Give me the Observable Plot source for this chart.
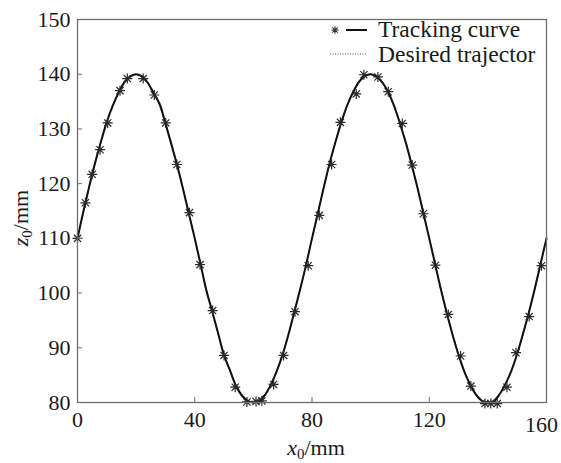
<!DOCTYPE html>
<html><head><meta charset="utf-8">
<script src="https://cdn.jsdelivr.net/npm/d3@7"></script>
<script src="https://cdn.jsdelivr.net/npm/@observablehq/plot@0.6"></script>
<style>body{margin:0;background:#fff} svg{display:block}</style>
</head><body><div id="chart"></div>
<script>
// x positions (mm) of the sampled curves
const xGrid = [0,2,4,6,8,10,12,14,16,18,20,22,24,26,28,30,32,34,36,38,40,42,44,46,48,50,52,54,56,58,60,62,64,66,68,70,72,74,76,78,80,82,84,86,88,90,92,94,96,98,100,102,104,106,108,110,112,114,116,118,120,122,124,126,128,130,132,134,136,138,140,142,144,146,148,150,152,154,156,158,160];
// tracking curve z0 (mm)
const trackZ = [110,114.9,119.5,123.8,127.7,131.3,134.2,136.6,138.5,139.6,140.0,
  139.6,138.4,136.5,134.6,131.0,127.2,123.3,119.0,114.5,110.0,
  105.2,100.4,96.6,92.6,88.6,85.9,83.1,81.3,80.3,80.0,
  80.3,81.4,83.3,85.8,88.8,92.5,96.6,100.8,105.2,110.0,
  114.6,119.3,123.7,127.6,131.2,134.3,136.7,138.6,139.7,140.0,
  139.6,138.5,136.7,134.2,131.0,127.5,123.5,119.2,114.6,110.0,
  105.3,100.6,96.3,92.3,88.7,85.6,83.2,81.4,80.3,80.0,
  80.2,81.5,83.4,85.8,88.9,92.6,96.5,100.8,105.4,110.0];
// desired trajectory z0 (mm)
const desiredZ = [110,114.7,119.3,123.6,127.6,131.2,134.3,136.7,138.5,139.6,140.0,
  139.6,138.5,136.7,134.3,131.2,127.6,123.6,119.3,114.7,110.0,
  105.3,100.7,96.4,92.4,88.8,85.7,83.3,81.5,80.4,80.0,
  80.4,81.5,83.3,85.7,88.8,92.4,96.4,100.7,105.3,110.0,
  114.7,119.3,123.6,127.6,131.2,134.3,136.7,138.5,139.6,140.0,
  139.6,138.5,136.7,134.3,131.2,127.6,123.6,119.3,114.7,110.0,
  105.3,100.7,96.4,92.4,88.8,85.7,83.3,81.5,80.4,80.0,
  80.4,81.5,83.3,85.7,88.8,92.4,96.4,100.7,105.3,110.0];
// star markers on the tracking curve
const starX = [0,2.7,5.0,7.7,10.3,14.5,17,22.4,26.2,30.1,33.9,38.2,41.8,46.1,50.0,53.8,57.8,60.9,62.9,66.9,70.3,74.2,78.7,82.5,86.7,89.7,95.1,97.7,102.5,106.0,110.8,114.2,118.0,122.1,126.5,130.7,134.2,139.0,141.0,143.2,146.5,149.6,154.1,158.3];
const starZ = [110,116.5,121.7,126.2,131.1,137.0,139.2,139.2,136.2,131.1,123.5,114.7,105.2,96.8,88.6,82.8,80.1,80.2,80.3,83.3,88.6,96.6,105.0,114.2,123.5,131.2,136.4,139.9,139.5,136.8,131.0,123.4,114.5,105.1,96.1,88.5,83.0,79.8,79.8,79.8,82.8,89.1,95.7,105.0];
const xTicks = [0,40,80,120];
const xLastTick = [160];
const yTicks = [80,90,100,110,120,130,140,150];
const seriesNames = ["Tracking curve","Desired trajector"];

const track = xGrid.map((x,i)=>({x, z:trackZ[i]}));
const desired = xGrid.map((x,i)=>({x, z:desiredZ[i]}));
const stars = starX.map((x,i)=>({x, z:starZ[i]}));

const starSymbol = {
  draw(ctx, size) {
    const r = Math.sqrt(size/Math.PI), d = r*0.72;
    ctx.moveTo(-r,0); ctx.lineTo(r,0);
    ctx.moveTo(0,-r); ctx.lineTo(0,r);
    ctx.moveTo(-d,-d); ctx.lineTo(d,d);
    ctx.moveTo(-d,d); ctx.lineTo(d,-d);
  }
};

const font = "'Liberation Serif','Times New Roman',serif";
const chart = Plot.plot({
  width:561, height:463,
  marginLeft:77, marginRight:15, marginTop:19, marginBottom:61,
  style:{fontFamily:font, fontSize:"22px", color:"#1a1a1a", background:"#fff", overflow:"visible"},
  x:{domain:[0,160]},
  y:{domain:[80,150]},
  marks:[
    Plot.line(desired,{x:"x", y:"z", stroke:"#555", strokeWidth:1.2, strokeDasharray:"1,1.5"}),
    Plot.line(track,{x:"x", y:"z", stroke:"#111", strokeWidth:2, curve:"catmull-rom"}),
    Plot.dot(stars,{x:"x", y:"z", symbol:starSymbol, r:5, stroke:"#2a2a2a", strokeWidth:1.2, fill:"none"}),
    Plot.frame({stroke:"#6e6e6e", strokeWidth:1.3}),
    Plot.axisX({ticks:xTicks, tickSize:-5, tickPadding:14, label:null, stroke:"#6e6e6e"}),
    Plot.axisX({ticks:xLastTick, tickSize:0, tickPadding:14, label:null, dx:-5}),
    Plot.axisY({ticks:yTicks, tickSize:-5, tickPadding:12, label:null, stroke:"#6e6e6e"})
  ]
});
document.getElementById("chart").append(chart);

const svg = d3.select(chart);
// axis labels with subscripts
const xl = svg.append("text").attr("x",316).attr("y",455).attr("text-anchor","middle")
  .attr("font-family",font).attr("font-size",22).attr("fill","#1a1a1a");
xl.append("tspan").attr("font-style","italic").text("x");
xl.append("tspan").attr("font-size",15).attr("dy",4).text("0");
xl.append("tspan").attr("dy",-4).text("/mm");
const yl = svg.append("text").attr("transform","translate(28,218) rotate(-90)").attr("text-anchor","middle")
  .attr("font-family",font).attr("font-size",22).attr("fill","#1a1a1a");
yl.append("tspan").attr("font-style","italic").text("z");
yl.append("tspan").attr("font-size",15).attr("dy",4).text("0");
yl.append("tspan").attr("dy",-4).text("/mm");

// legend
const lg = svg.append("g").attr("text-anchor","start");
lg.append("path").attr("d", d3.symbol(starSymbol, 45)()).attr("transform","translate(335,30)")
  .attr("stroke","#333").attr("stroke-width",1.1).attr("fill","none");
lg.append("line").attr("x1",346).attr("x2",367).attr("y1",30).attr("y2",30).attr("stroke","#111").attr("stroke-width",2);
lg.append("line").attr("x1",330).attr("x2",367).attr("y1",54).attr("y2",54).attr("stroke","#555").attr("stroke-width",1.2).attr("stroke-dasharray","1,1.5");
lg.append("text").attr("x",378).attr("y",37).attr("text-anchor","start").attr("font-family",font).attr("font-size",23.5).attr("fill","#1a1a1a").text(seriesNames[0]);
lg.append("text").attr("x",378).attr("y",61.5).attr("text-anchor","start").attr("font-family",font).attr("font-size",23.5).attr("fill","#1a1a1a").text(seriesNames[1]);
</script>
</body></html>
